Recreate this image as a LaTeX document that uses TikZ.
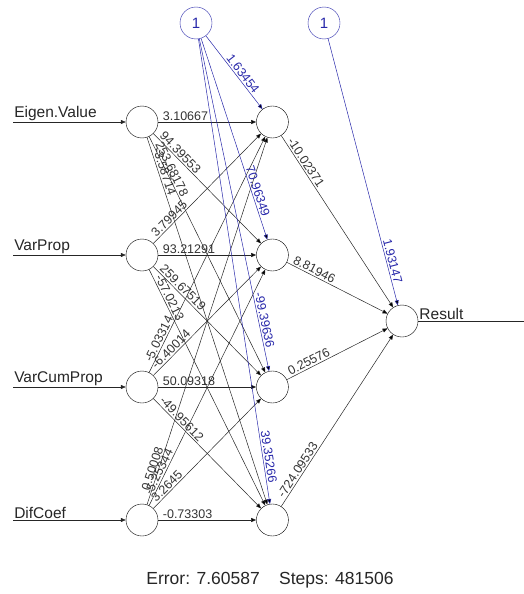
\documentclass[tikz,border=0pt]{standalone}
\usepackage{fontspec}
\setmainfont{Liberation Sans}
\usetikzlibrary{arrows.meta,positioning}

\definecolor{biasblue}{RGB}{40,40,170}

\tikzset{
  neuron/.style={circle,draw,minimum size=32pt,inner sep=0pt},
  biasnode/.style={neuron,draw=biasblue,text=biasblue,font=\fontsize{15}{15}\selectfont},
  syn/.style={->,draw=black!85,line width=0.5pt},
  biassyn/.style={->,draw=biasblue,line width=0.5pt},
  wt/.style={sloped,anchor=south west,pos=0.03,inner sep=1.5pt,text=black!80,font=\fontsize{12.5}{13}\selectfont},
  bwt/.style={sloped,above,inner sep=1.5pt,text=biasblue,font=\fontsize{12.5}{13}\selectfont},
  lbl/.style={anchor=south west,inner sep=1pt,text=black!85,font=\fontsize{15.5}{15.5}\selectfont}
}

\begin{document}
\begin{tikzpicture}[x=1pt,y=-1pt,>={Triangle[length=5pt,width=4pt]}]
	\useasboundingbox (0,0) rectangle (524,594);

	% inputs
	\node[neuron] (i1) at (142,122) {};
	\node[neuron] (i2) at (142,255) {};
	\node[neuron] (i3) at (142,387) {};
	\node[neuron] (i4) at (142,520) {};
	\coordinate (s1) at (13,122);
	\coordinate (s2) at (13,255);
	\coordinate (s3) at (13,387);
	\coordinate (s4) at (13,520);

	% hidden layer
	\node[neuron] (h1) [right=98pt of i1] {};
	\node[neuron] (h2) [right=98pt of i2] {};
	\node[neuron] (h3) [right=98pt of i3] {};
	\node[neuron] (h4) [right=98pt of i4] {};

	% output
	\node[neuron] (out) at (402,321) {};
	\coordinate (oend) at (526,321);

	% intercepts
	\node[biasnode] (b1) at (196,23) {1};
	\node[biasnode] (b2) at (324,23) {1};

	\draw[syn] (s1) -- (i1) node[lbl,pos=0] {Eigen.Value};
	\draw[syn] (s2) -- (i2) node[lbl,pos=0] {VarProp};
	\draw[syn] (s3) -- (i3) node[lbl,pos=0] {VarCumProp};
	\draw[syn] (s4) -- (i4) node[lbl,pos=0] {DifCoef};

	\path[syn]
	(i1) edge node[wt] {3.10667} (h1)
	(i1) edge node[wt] {94.39553} (h2)
	(i1) edge node[wt] {253.68178} (h3)
	(i1) edge node[wt] {-3.58714} (h4)
	(i2) edge node[wt] {3.79945} (h1)
	(i2) edge node[wt] {93.21291} (h2)
	(i2) edge node[wt] {259.67519} (h3)
	(i2) edge node[wt] {-57.0213} (h4)
	(i3) edge node[wt] {-5.03314} (h1)
	(i3) edge node[wt] {-6.40014} (h2)
	(i3) edge node[wt] {50.09318} (h3)
	(i3) edge node[wt] {-49.95612} (h4)
	(i4) edge node[wt] {0.50008} (h1)
	(i4) edge node[wt] {-5.25344} (h2)
	(i4) edge node[wt] {3.2645} (h3)
	(i4) edge node[wt] {-0.73303} (h4)
	(h1) edge node[wt] {-10.02371} (out)
	(h2) edge node[wt] {8.81946} (out)
	(h3) edge node[wt] {0.25576} (out)
	(h4) edge node[wt] {-724.09533} (out)
	;

	\path[biassyn]
	(b1) edge node[bwt,pos=0.57] {1.63454} (h1)
	(b1) edge node[bwt,pos=0.77] {70.96349} (h2)
	(b1) edge node[bwt,pos=0.85] {-99.39636} (h3)
	(b1) edge node[bwt,pos=0.9] {39.35266} (h4)
	(b2) edge node[bwt,pos=0.84] {1.93147} (out)
	;

	\draw[draw=black!85,line width=0.5pt] (out) -- (oend) node[lbl,pos=0] {Result};

	\node[font=\fontsize{17.5}{17.5}\selectfont,text=black!85] (err) at (270,580) {Error: 7.60587\hspace{1.1em}Steps: 481506};
\end{tikzpicture}
\end{document}
